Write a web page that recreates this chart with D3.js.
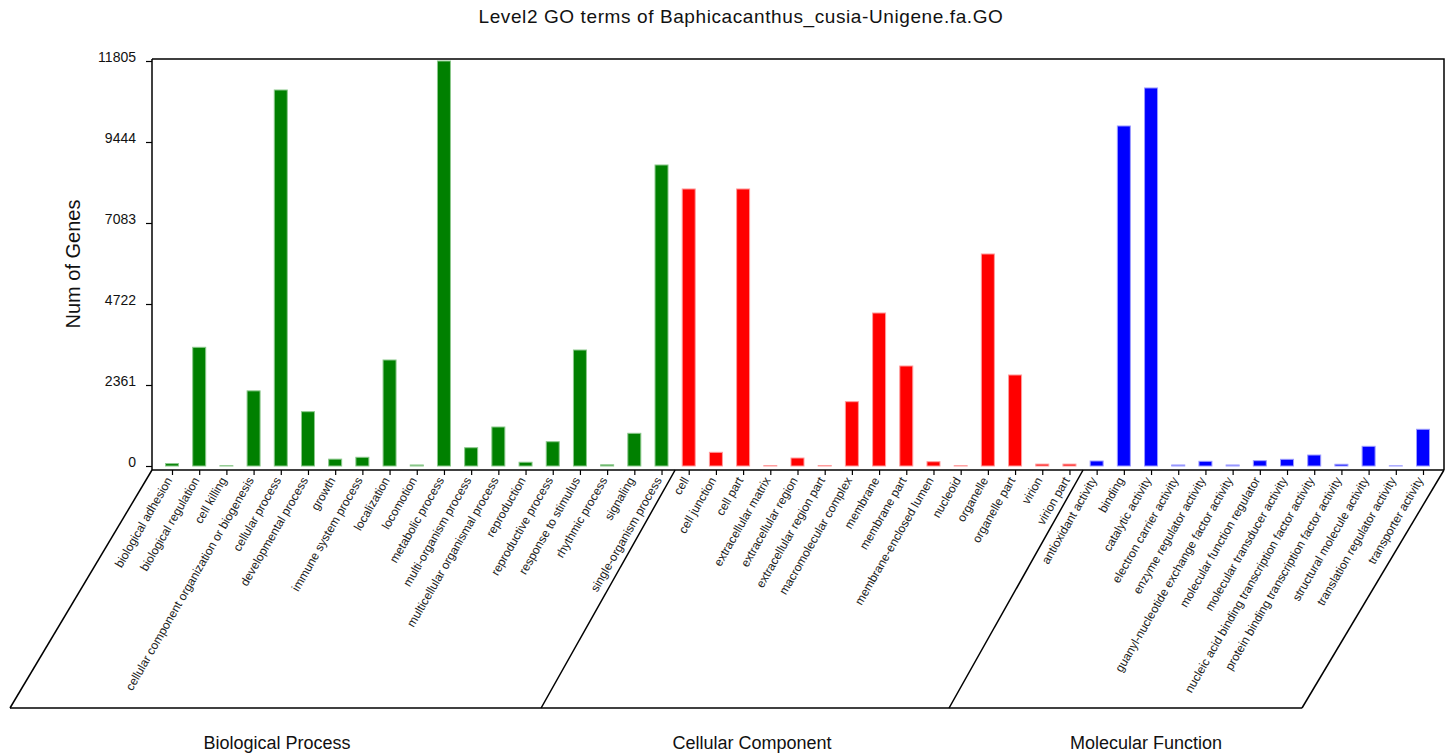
<!DOCTYPE html>
<html>
<head>
<meta charset="utf-8">
<script src="https://cdn.jsdelivr.net/npm/d3@7"></script>
<style>
  html, body { margin: 0; padding: 0; background: #fff; }
  svg { display: block; font-family: "Liberation Sans", Arial, sans-serif; }
</style>
</head>
<body>
<svg id="chart" width="1448" height="755"></svg>
<script>
// GO level-2 term counts, grouped by ontology
const bpTerms = [
  "biological adhesion", "biological regulation", "cell killing",
  "cellular component organization or biogenesis", "cellular process",
  "developmental process", "growth", "immune system process", "localization",
  "locomotion", "metabolic process", "multi-organism process",
  "multicellular organismal process", "reproduction", "reproductive process",
  "response to stimulus", "rhythmic process", "signaling", "single-organism process"
];
const bpCounts = [70, 3460, 8, 2190, 10960, 1583, 200, 254, 3090, 30, 11805, 533, 1137, 110, 708, 3381, 35, 953, 8774];

const ccTerms = [
  "cell", "cell junction", "cell part", "extracellular matrix", "extracellular region",
  "extracellular region part", "macromolecular complex", "membrane", "membrane part",
  "membrane-enclosed lumen", "nucleoid", "organelle", "organelle part", "virion", "virion part"
];
const ccCounts = [8075, 399, 8075, 10, 233, 15, 1875, 4460, 2915, 125, 8, 6180, 2653, 55, 55];

const mfTerms = [
  "antioxidant activity", "binding", "catalytic activity", "electron carrier activity",
  "enzyme regulator activity", "guanyl-nucleotide exchange factor activity",
  "molecular function regulator", "molecular transducer activity",
  "nucleic acid binding transcription factor activity",
  "protein binding transcription factor activity", "structural molecule activity",
  "translation regulator activity", "transporter activity"
];
const mfCounts = [146, 9911, 11019, 30, 137, 30, 155, 195, 320, 50, 574, 5, 1070];

const groupNames = ["Biological Process", "Cellular Component", "Molecular Function"];
const groupColors = ["#008000", "#ff0000", "#0000ff"];
const groupEdges = ["#8cc88c", "#ff9c9c", "#9c9cff"];
const yTickValues = [0, 2361, 4722, 7083, 9444, 11805];

const chartTitle = "Level2 GO terms of Baphicacanthus_cusia-Unigene.fa.GO";
const yTitle = "Num of Genes";

// flatten into one row per term
const groups = [
  { name: groupNames[0], terms: bpTerms, counts: bpCounts },
  { name: groupNames[1], terms: ccTerms, counts: ccCounts },
  { name: groupNames[2], terms: mfTerms, counts: mfCounts }
];
const rows = [];
groups.forEach((g, gi) => g.terms.forEach((t, i) => rows.push({ term: t, value: g.counts[i], group: gi })));

const svg = d3.select("#chart");

// plot frame
const frameL = 152, frameR = 1444, frameT = 59, axisY = 470;
const baseY = 466;

const x = d3.scalePoint().domain(rows.map(d => d.term)).range([172, 1423]);
const y = d3.scaleLinear().domain([0, 11805]).range([baseY, 61]);
const barW = 13;

// title
svg.append("text")
  .attr("x", 741).attr("y", 23)
  .attr("text-anchor", "middle")
  .attr("font-size", 19)
  .attr("letter-spacing", 0.6)
  .attr("fill", "#111")
  .text(chartTitle);

// top and right border
svg.append("path")
  .attr("d", `M${frameL},${frameT}H${frameR}V${axisY}`)
  .attr("fill", "none").attr("stroke", "#000").attr("stroke-width", 1.5);

// y axis
const yAxis = svg.append("g")
  .attr("transform", `translate(${frameL},0)`)
  .call(d3.axisLeft(y).tickValues(yTickValues).tickSize(6).tickPadding(10).tickFormat(d3.format("d")));
yAxis.select(".domain").remove();
yAxis.selectAll(".tick line").attr("stroke", "#000").attr("stroke-width", 1.2);
yAxis.selectAll(".tick text")
  .attr("font-size", 14).attr("font-family", "Liberation Sans, Arial, sans-serif")
  .attr("fill", "#111").attr("dy", "0em");
svg.append("line")
  .attr("x1", frameL).attr("x2", frameL).attr("y1", frameT).attr("y2", axisY)
  .attr("stroke", "#000").attr("stroke-width", 1.5);

svg.append("text")
  .attr("transform", `translate(80,264) rotate(-90)`)
  .attr("text-anchor", "middle")
  .attr("font-size", 20)
  .attr("fill", "#111")
  .text(yTitle);

// bars
svg.append("g").selectAll("rect")
  .data(rows)
  .join("rect")
  .attr("x", d => x(d.term) - barW / 2)
  .attr("y", d => y(d.value))
  .attr("width", barW)
  .attr("height", d => baseY - y(d.value))
  .attr("fill", d => groupColors[d.group])
  .attr("stroke", d => groupEdges[d.group])
  .attr("stroke-width", 1);

// x axis with rotated term labels
const xAxis = svg.append("g")
  .attr("transform", `translate(0,${axisY})`)
  .call(d3.axisBottom(x).tickSize(5).tickFormat(""));
xAxis.select(".domain").remove();
xAxis.selectAll(".tick line").attr("stroke", "#000").attr("stroke-width", 1.2);
svg.append("line")
  .attr("x1", frameL).attr("x2", frameR).attr("y1", axisY).attr("y2", axisY)
  .attr("stroke", "#000").attr("stroke-width", 1.5);

svg.append("g").selectAll("text")
  .data(rows)
  .join("text")
  .attr("transform", d => `translate(${x(d.term) - 3},${axisY + 8}) rotate(-60)`)
  .attr("text-anchor", "end")
  .attr("dy", "0.35em")
  .attr("font-size", 12)
  .attr("fill", "#222")
  .text(d => d.term);

// skewed group panels under the axis
const bottomY = 708;
const step = x.step();
const firstIdx = [0, bpTerms.length, bpTerms.length + ccTerms.length];
const dividers = [firstIdx[1], firstIdx[2]].map(i => x(rows[i].term) - step / 2);
const outerSkew = 142, innerSkew = 134;

const edges = [
  [frameL, frameL - outerSkew],
  [dividers[0], dividers[0] - innerSkew],
  [dividers[1], dividers[1] - innerSkew],
  [frameR, frameR - outerSkew]
];
const panel = svg.append("g").attr("stroke", "#000").attr("stroke-width", 1.5).attr("fill", "none");
edges.forEach(([t, b]) => panel.append("line")
  .attr("x1", t).attr("y1", axisY).attr("x2", b).attr("y2", bottomY));
panel.append("line")
  .attr("x1", edges[0][1]).attr("x2", edges[3][1]).attr("y1", bottomY).attr("y2", bottomY);

// group names
const groupLabelX = [277, 752, 1146];
svg.append("g").selectAll("text")
  .data(groupNames)
  .join("text")
  .attr("x", (d, i) => groupLabelX[i])
  .attr("y", 749)
  .attr("text-anchor", "middle")
  .attr("font-size", 18)
  .attr("fill", "#111")
  .text(d => d);
</script>
</body>
</html>
